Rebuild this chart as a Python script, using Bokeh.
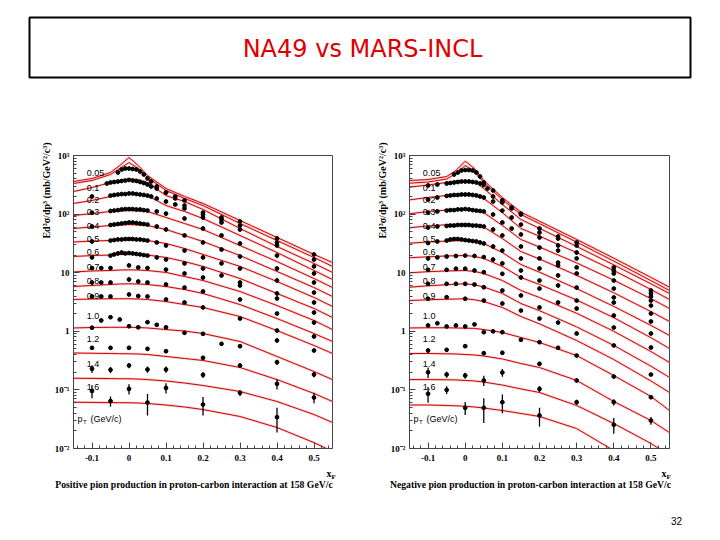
from bokeh.plotting import figure
from bokeh.layouts import column, row
from bokeh.models import (Range1d, FixedTicker, SingleIntervalTicker,
                          CustomJSTickFormatter, Label, Title)
from bokeh.core.properties import value
from bokeh.embed import file_html
from bokeh.resources import INLINE

# ---------------------------------------------------------------- data
pt_labels = ["0.05", "0.1", "0.2", "0.3", "0.4", "0.5", "0.6", "0.7",
             "0.8", "0.9", "1.0", "1.2", "1.4", "1.6"]

# model curves (MARS-INCL), sampled at these x_F values
xf_grid = [-0.15, -0.1, -0.05, -0.025, 0, 0.025, 0.05, 0.1, 0.15, 0.2, 0.3, 0.4, 0.5, 0.55]

pos_fit_005a = [360, 405, 513, 675, 925, 675, 456, 274, 200, 152, 77.8, 39.9, 20.5, 14.9]
pos_fit_005b = [333, 374, 474, 600, 759, 600, 422, 253, 185, 140, 69.2, 35.4, 18.2, 12.8]
pos_fit_01 = [243, 284, 346, 374, 397, 389, 346, 207, 164, 120, 56.8, 28.0, 14.4, 10.1]
pos_fit_02 = [152, 171, 200, 212, 220, 216, 207, 140, 111, 84.1, 43.2, 22.1, 10.9, 7.66]
pos_fit_03 = [94.6, 102, 111, 113, 115, 113, 111, 87.5, 69.2, 54.6, 29.1, 15.5, 7.96, 5.58]
pos_fit_04 = [56.8, 60.3, 63.8, 65.2, 66.4, 65.2, 63.8, 54.6, 43.2, 34.0, 19.6, 10.5, 5.58, 3.93]
pos_fit_05 = [33.4, 34.7, 35.4, 36.1, 36.4, 36.1, 35.4, 31.5, 25.9, 20.5, 12.8, 7.08, 3.78, 2.65]
pos_fit_06 = [18.9, 19.6, 20.0, 20.5, 20.5, 20.5, 20.0, 18.2, 15.5, 12.8, 7.96, 4.42, 2.45, 1.72]
pos_fit_07 = [10.3, 10.7, 10.9, 11.1, 11.2, 11.1, 10.9, 10.1, 8.61, 7.36, 4.78, 2.75, 1.53, 1.07]
pos_fit_08 = [5.81, 6.05, 6.29, 6.41, 6.47, 6.41, 6.29, 5.81, 5.16, 4.42, 2.86, 1.65, 0.917, 0.670]
pos_fit_09 = [3.49, 3.56, 3.59, 3.59, 3.59, 3.56, 3.49, 3.22, 2.86, 2.55, 1.79, 1.03, 0.573, 0.418]
pos_fit_10 = [1.14, 1.16, 1.17, 1.17, 1.17, 1.16, 1.14, 1.07, 1.01, 0.917, 0.670, 0.372, 0.206, 0.150]
pos_fit_12 = [0.427, 0.422, 0.418, 0.415, 0.413, 0.410, 0.402, 0.372, 0.344, 0.318, 0.241, 0.150, 0.0869, 0.0634]
pos_fit_14 = [0.158, 0.157, 0.156, 0.155, 0.155, 0.153, 0.150, 0.142, 0.131, 0.119, 0.0940, 0.0634, 0.0380, 0.0278]
pos_fit_16 = [0.0617, 0.0612, 0.0607, 0.0605, 0.0603, 0.0597, 0.0586, 0.0552, 0.0511, 0.0462, 0.0352, 0.0228, 0.0126, 0.0089]

neg_fit_005a = [374, 389, 438, 555, 799, 600, 374, 192, 108, 75.6, 37.0, 17.7, 8.31, 5.65]
neg_fit_005b = [337, 353, 397, 493, 675, 533, 346, 177, 98.4, 68.8, 33.3, 15.8, 7.33, 4.97]
neg_fit_01 = [288, 314, 346, 367, 374, 360, 273, 146, 80.9, 57.2, 28.1, 13.6, 6.46, 4.42]
neg_fit_02 = [175, 192, 208, 216, 222, 212, 185, 106, 56.8, 42.0, 22.0, 10.9, 5.17, 3.49]
neg_fit_03 = [101, 111, 117, 121, 123, 118, 106, 63.9, 36.9, 27.4, 14.7, 7.45, 3.60, 2.45]
neg_fit_04 = [58.4, 62.7, 65.9, 67.2, 68.3, 65.7, 60.2, 38.3, 23.0, 17.1, 9.03, 4.54, 2.17, 1.47]
neg_fit_05 = [31.9, 33.4, 34.6, 35.2, 35.4, 34.1, 31.5, 22.1, 13.8, 10.2, 5.35, 2.66, 1.26, 0.848]
neg_fit_06 = [18.0, 18.7, 19.3, 19.5, 19.7, 18.9, 17.5, 12.8, 8.28, 6.31, 3.42, 1.71, 0.777, 0.509]
neg_fit_07 = [9.96, 10.4, 10.7, 10.8, 10.9, 10.5, 9.69, 7.36, 4.97, 3.77, 2.03, 1.00, 0.452, 0.293]
neg_fit_08 = [5.65, 5.98, 6.24, 6.36, 6.46, 6.22, 5.70, 4.42, 2.98, 2.25, 1.19, 0.574, 0.254, 0.163]
neg_fit_09 = [3.35, 3.45, 3.53, 3.56, 3.59, 3.45, 3.22, 2.55, 1.79, 1.34, 0.697, 0.330, 0.142, 0.0903]
neg_fit_10 = [1.14, 1.15, 1.15, 1.14, 1.13, 1.12, 1.07, 0.954, 0.784, 0.644, 0.386, 0.176, 0.0772, 0.0445]
neg_fit_12 = [0.418, 0.418, 0.413, 0.410, 0.402, 0.394, 0.379, 0.337, 0.282, 0.241, 0.145, 0.0634, 0.0300, 0.0187]
neg_fit_14 = [0.150, 0.150, 0.149, 0.148, 0.145, 0.142, 0.136, 0.121, 0.104, 0.0903, 0.0542, 0.0267, 0.0122, 0.0076]
neg_fit_16 = [0.0553, 0.0553, 0.0542, 0.0535, 0.0525, 0.0511, 0.0491, 0.0445, 0.0396, 0.0352, 0.0219, 0.00924, 0.00390, 0.00253]

# NA49 measurements: x_F positions
xf_peak = [-0.03, -0.02, -0.01, 0, 0.01, 0.02, 0.03, 0.04, 0.05, 0.06, 0.075, 0.1, 0.125, 0.15, 0.2, 0.25, 0.3, 0.4, 0.5]
xf_wide = [-0.06, -0.05, -0.04, -0.03, -0.02, -0.01, 0, 0.01, 0.02, 0.03, 0.04, 0.05, 0.06, 0.075, 0.1, 0.125, 0.15, 0.2, 0.25, 0.3, 0.4, 0.5]
xf_wide2 = [-0.1, -0.05, -0.04, -0.03, -0.02, -0.01, 0, 0.01, 0.02, 0.03, 0.04, 0.05, 0.06, 0.075, 0.1, 0.125, 0.15, 0.2, 0.25, 0.3, 0.4, 0.5]
xf_dense = [-0.1, -0.05, -0.04, -0.03, -0.02, -0.01, 0, 0.01, 0.02, 0.03, 0.04, 0.05, 0.075, 0.1, 0.15, 0.2, 0.25, 0.3, 0.4, 0.5]
xf_sparse = [-0.1, -0.075, -0.05, 0, 0.025, 0.05, 0.1, 0.15, 0.2, 0.3, 0.4, 0.5]
xf_mid = [-0.1, -0.075, -0.05, -0.025, 0, 0.025, 0.05, 0.075, 0.1, 0.15, 0.2, 0.25, 0.3, 0.4, 0.5]
xf_high = [-0.1, -0.05, 0, 0.05, 0.1, 0.2, 0.3, 0.4, 0.5]
xf_high16 = [-0.1, -0.05, 0, 0.05, 0.1, 0.2, 0.4]

neg_xf_full = [-0.1, -0.075, -0.05, -0.04, -0.03, -0.02, -0.01, 0, 0.01, 0.02, 0.03, 0.04, 0.05, 0.075, 0.1, 0.125, 0.15, 0.2, 0.25, 0.3, 0.4, 0.5]
neg_xf_full2 = [-0.1, -0.075, -0.05, -0.04, -0.03, -0.02, -0.01, 0, 0.01, 0.02, 0.03, 0.04, 0.05, 0.075, 0.1, 0.15, 0.2, 0.25, 0.3, 0.4, 0.5]
neg_xf_mid7 = [-0.1, -0.05, -0.025, 0, 0.025, 0.05, 0.1, 0.15, 0.2, 0.25, 0.3, 0.4, 0.5]
neg_xf_09 = [-0.1, -0.05, 0, 0.05, 0.1, 0.15, 0.2, 0.25, 0.3, 0.4, 0.5]
neg_xf_14 = [-0.1, -0.05, 0, 0.05, 0.1, 0.2, 0.3, 0.4]
neg_xf_16 = [-0.1, -0.05, 0, 0.05, 0.1, 0.2]

# positive pions, E d3sigma/dp3
pos_y_005 = [513, 577, 600, 600, 588, 577, 533, 474, 405, 360, 296, 234, 185, 140, 106, 87.5, 74.8, 38.3, 20.5]
pos_y_01 = [333, 346, 353, 360, 367, 374, 382, 374, 367, 353, 339, 320, 296, 273, 234, 200, 171, 98.4, 80.9, 63.9, 32.8, 16.8]
pos_y_02 = [200, 207, 212, 216, 220, 220, 225, 225, 220, 216, 212, 207, 200, 185, 164, 146, 125, 87.5, 71.9, 54.6, 29.1, 12.8]
pos_y_03 = [106, 113, 115, 117, 120, 122, 122, 122, 120, 120, 117, 115, 111, 102, 84.1, 56.8, 43.2, 31.5, 19.6, 9.69]
pos_y_04 = [61.4, 65.1, 66.4, 67.8, 69.1, 70.5, 71.9, 71.9, 70.5, 69.1, 67.8, 66.4, 61.4, 54.6, 43.2, 32.8, 24.9, 18.9, 11.8, 6.80]
pos_y_05 = [34.1, 35.4, 36.1, 36.9, 36.9, 37.6, 37.6, 37.6, 36.9, 36.9, 36.1, 35.4, 32.8, 29.1, 23.9, 18.2, 14.4, 11.8, 7.36, 4.59]
pos_y_06 = [18.2, 19.6, 20.5, 21.3, 22.1, 21.3, 21.7, 21.3, 20.9, 20.5, 20.0, 19.6, 18.2, 16.8, 14.4, 11.8, 8.96, 6.80, 4.42, 3.10]
pos_y_07 = [12.0, 12.0, 12.0, 13.3, 12.3, 12.0, 11.3, 9.69, 8.28, 6.05, 3.63, 2.09]
pos_y_08 = [6.80, 6.80, 6.80, 7.66, 7.08, 6.80, 6.29, 5.58, 4.78, 3.49, 2.01, 1.41]
pos_y_09 = [3.93, 3.93, 3.93, 4.25, 4.00, 3.93, 3.49, 3.10, 2.55, 1.65, 1.03, 0.815]
pos_y_10 = [1.15, 1.53, 1.74, 1.59, 1.22, 1.17, 1.43, 1.29, 1.17, 0.943, 0.906, 0.612, 0.557, 0.697, 0.470]
pos_y_12 = [0.523, 0.523, 0.523, 0.503, 0.458, 0.353, 0.261, 0.297, 0.183]
pos_y_14 = [0.229, 0.220, 0.261, 0.223, 0.223, 0.181, 0.0892, 0.127, 0.0742]
pos_y_16 = [0.0958, 0.0646, 0.104, 0.0609, 0.108, 0.0563, 0.0342]
pos_e_12 = [0.06, 0.05, 0.05, 0.06, 0.06, 0.06, 0.08, 0.1, 0.1]
pos_e_14 = [0.15, 0.12, 0.1, 0.12, 0.12, 0.12, 0.12, 0.2, 0.2]
pos_e_16 = [0.25, 0.2, 0.2, 0.4, 0.2, 0.35, 0.45]

# negative pions
neg_y_005 = [474, 513, 555, 565, 565, 555, 513, 438, 346, 273, 200, 171, 130, 102, 56.8, 41.5, 32.8, 12.3, 4.97]
neg_y_01 = [308, 320, 333, 339, 346, 353, 360, 360, 360, 353, 346, 333, 314, 253, 158, 125, 98.4, 48.5, 38.3, 29.1, 10.9, 4.42]
neg_y_02 = [177, 192, 204, 208, 212, 212, 216, 216, 216, 212, 208, 200, 192, 164, 115, 87.5, 66.4, 39.9, 29.1, 22.1, 9.69, 3.93]
neg_y_03 = [106, 111, 115, 117, 117, 120, 120, 122, 120, 117, 115, 113, 111, 98.4, 71.9, 56.8, 44.9, 26.9, 23.9, 17.5, 7.36, 3.35]
neg_y_04 = [59.0, 61.4, 62.7, 63.8, 63.8, 65.1, 65.1, 65.1, 65.1, 63.8, 63.8, 62.7, 61.4, 54.6, 43.2, 28.0, 17.5, 14.9, 12.3, 5.37, 2.75]
neg_y_05 = [32.1, 34.1, 35.4, 36.9, 37.6, 37.6, 36.9, 36.1, 35.4, 34.7, 34.1, 32.8, 31.5, 28.0, 23.9, 17.5, 11.8, 13.3, 9.69, 3.78, 2.01]
neg_y_06 = [17.5, 18.2, 18.9, 19.3, 19.6, 19.3, 18.5, 16.8, 14.4, 10.9, 7.36, 8.96, 5.58, 3.10, 1.47]
neg_y_07 = [11.2, 11.2, 11.7, 11.7, 10.9, 10.2, 9.58, 8.28, 5.37, 6.05, 3.35, 1.86, 0.917]
neg_y_08 = [6.47, 6.47, 6.47, 6.47, 6.29, 5.65, 4.97, 4.08, 2.55, 3.10, 2.45, 1.16, 0.529]
neg_y_09 = [3.59, 3.82, 3.59, 3.35, 2.98, 2.26, 1.65, 1.41, 0.917, 0.573, 0.183]
neg_y_10 = [1.26, 1.37, 1.21, 1.26, 1.21, 1.31, 0.965, 1.00, 0.965, 0.716, 0.652, 0.523, 0.386, 0.169, 0.0750]
neg_y_12 = [0.470, 0.483, 0.557, 0.423, 0.430, 0.279, 0.145, 0.0617, 0.0300]
neg_y_14 = [0.200, 0.183, 0.176, 0.145, 0.198, 0.104, 0.0617, 0.0254]
neg_y_16 = [0.0858, 0.100, 0.0495, 0.0495, 0.0617, 0.0366]
neg_e_12 = [0.08, 0.07, 0.06, 0.08, 0.08, 0.08, 0.08, 0.12, 0.15]
neg_e_14 = [0.2, 0.12, 0.12, 0.2, 0.15, 0.12, 0.1, 0.3]
neg_e_16 = [0.3, 0.15, 0.25, 0.45, 0.35, 0.35]

# ---------------------------------------------------------------- layout constants
label_x_pos = -0.114
label_y_pos = [493, 274, 171, 108, 63.8, 37.8, 23.0, 12.4, 7.08, 4.08, 1.86, 0.745, 0.279, 0.111]

pos_fits = [pos_fit_005a, pos_fit_005b, pos_fit_01, pos_fit_02, pos_fit_03, pos_fit_04,
            pos_fit_05, pos_fit_06, pos_fit_07, pos_fit_08, pos_fit_09, pos_fit_10,
            pos_fit_12, pos_fit_14, pos_fit_16]
neg_fits = [neg_fit_005a, neg_fit_005b, neg_fit_01, neg_fit_02, neg_fit_03, neg_fit_04,
            neg_fit_05, neg_fit_06, neg_fit_07, neg_fit_08, neg_fit_09, neg_fit_10,
            neg_fit_12, neg_fit_14, neg_fit_16]

pos_sets = [(xf_peak, pos_y_005, None), (xf_wide, pos_y_01, None), (xf_wide2, pos_y_02, None),
            (xf_dense, pos_y_03, None), (xf_dense, pos_y_04, None), (xf_dense, pos_y_05, None),
            (xf_dense, pos_y_06, None), (xf_sparse, pos_y_07, None), (xf_sparse, pos_y_08, None),
            (xf_sparse, pos_y_09, None), (xf_mid, pos_y_10, None), (xf_high, pos_y_12, pos_e_12),
            (xf_high, pos_y_14, pos_e_14), (xf_high16, pos_y_16, pos_e_16)]
neg_sets = [(xf_peak, neg_y_005, None), (neg_xf_full, neg_y_01, None), (neg_xf_full, neg_y_02, None),
            (neg_xf_full, neg_y_03, None), (neg_xf_full2, neg_y_04, None), (neg_xf_full2, neg_y_05, None),
            (xf_mid, neg_y_06, None), (neg_xf_mid7, neg_y_07, None), (neg_xf_mid7, neg_y_08, None),
            (neg_xf_09, neg_y_09, None), (xf_mid, neg_y_10, None), (xf_high, neg_y_12, neg_e_12),
            (neg_xf_14, neg_y_14, neg_e_14), (neg_xf_16, neg_y_16, neg_e_16)]

FRAME = "#444444"
FIT_RED = "#d00000"
SERIF = "Liberation Serif"
SANS = "Liberation Sans"
Y_TITLE = "Ed\u00b3\u03c3/dp\u00b3 (mb/GeV\u00b2/c\u00b3)"
PANEL_H = 340

y_fmt_code = """
const e = Math.round(Math.log10(tick));
if (e === 0) { return "1"; }
if (e === 1) { return "10"; }
const sup = {"-2": "\u207b\u00b2", "-1": "\u207b\u00b9", "2": "\u00b2", "3": "\u00b3"};
return "10" + sup[String(e)];
"""
x_fmt_code = """
const v = Math.round(tick * 10) / 10;
if (v === 0) { return "0"; }
return v.toFixed(1);
"""


def blank(width, height, xr, yr):
    f = figure(width=width, height=height, x_range=Range1d(*xr), y_range=Range1d(*yr),
               output_backend="svg", toolbar_location=None, min_border=0,
               x_axis_type=None, y_axis_type=None)
    f.outline_line_color = None
    f.background_fill_color = "white"
    f.border_fill_color = "white"
    return f


def add_label(p, x, y, text, size="9px", xo=0, yo=0):
    p.add_layout(Label(x=x, y=y, text=text, text_font=SANS, text_font_size=size,
                       text_align="left", text_baseline="middle",
                       x_offset=xo, y_offset=yo, text_color="black"))


def make_panel(fits, sets, width, mb_left, mb_right):
    p = figure(width=width, height=PANEL_H, x_range=Range1d(-0.15, 0.55),
               y_range=Range1d(0.01, 1000), y_axis_type="log",
               output_backend="svg", toolbar_location=None,
               min_border_left=mb_left, min_border_right=mb_right,
               min_border_top=27, min_border_bottom=20)
    p.grid.visible = False
    p.outline_line_color = FRAME
    p.outline_line_width = 1
    p.background_fill_color = "white"
    p.border_fill_color = "white"

    yax = p.yaxis[0]
    yax.ticker = FixedTicker(ticks=[0.01, 0.1, 1, 10, 100, 1000],
                             minor_ticks=[m * 10.0 ** e for e in range(-2, 3) for m in range(2, 10)])
    yax.formatter = CustomJSTickFormatter(code=y_fmt_code)
    xax = p.xaxis[0]
    xax.ticker = SingleIntervalTicker(interval=0.1, num_minor_ticks=5)
    xax.formatter = CustomJSTickFormatter(code=x_fmt_code)
    for ax in (xax, yax):
        ax.axis_line_color = FRAME
        ax.major_tick_line_color = FRAME
        ax.minor_tick_line_color = FRAME
        ax.major_tick_in = 6
        ax.major_tick_out = 0
        ax.minor_tick_in = 3
        ax.minor_tick_out = 0
        ax.major_label_text_font = SERIF
        ax.major_label_text_font_style = "bold"
        ax.major_label_text_font_size = "9px"
        ax.major_label_text_color = "black"
    yax.major_label_standoff = 4
    xax.major_label_standoff = 6

    # y-axis title, towards the top end of the axis
    p.add_layout(Title(text=Y_TITLE, align="right", offset=-13, standoff=0,
                       text_font=SERIF, text_font_style="bold", text_font_size="10px",
                       text_color="black"), "left")

    # model curves: soft halo then the line itself
    for vals in fits:
        p.line(xf_grid, vals, line_color="#f6b4b4", line_width=2.6, line_alpha=0.6)
    for vals in fits:
        p.line(xf_grid, vals, line_color=FIT_RED, line_width=1.0)

    # measurements
    for xs, ys, errs in sets:
        if errs is not None:
            lo = [v * (1 - e) for v, e in zip(ys, errs)]
            hi = [v * (1 + e) for v, e in zip(ys, errs)]
            p.segment(x0=xs, y0=lo, x1=xs, y1=hi, line_color="black", line_width=1.3)
        p.scatter(xs, ys, marker="circle", size=3.8, fill_color="black", line_color="black")

    # p_T labels
    for txt, ly in zip(pt_labels, label_y_pos):
        add_label(p, label_x_pos, ly, txt)
    add_label(p, -0.139, 0.0321, "p")
    add_label(p, -0.139, 0.0321, "T", size="6px", xo=5.5, yo=-3)
    add_label(p, -0.139, 0.0321, "(GeV/c)", xo=13)
    return p


def make_top():
    t = blank(720, 128, (0, 720), (128, 0))
    t.quad(left=[29], right=[690], top=[17], bottom=[77], fill_color=None,
           line_color="black", line_width=2)
    t.text(x=[362], y=[48], text=["NA49 vs MARS-INCL"], text_font=value("DejaVu Sans"),
           text_font_size=value("24px"), text_color="#dd0000", text_align="center",
           text_baseline="middle")
    return t


def make_bottom():
    b = blank(720, 72, (0, 720), (72, 0))
    serif = value(SERIF)
    # x_F axis titles
    b.text(x=[326, 661], y=[5, 5], text=["x", "x"], text_font=serif, text_font_style="bold",
           text_font_size=value("10px"), text_align="left", text_baseline="middle")
    b.text(x=[331, 666], y=[8, 8], text=["F", "F"], text_font=serif, text_font_style="bold",
           text_font_size=value("7px"), text_align="left", text_baseline="middle")
    # captions
    b.text(x=[193.5, 530], y=[15.5, 15.5],
           text=["Positive pion production in proton-carbon interaction at 158 GeV/c",
                 "Negative pion production in proton-carbon interaction at 158 GeV/c"],
           text_font=serif, text_font_style="bold", text_font_size=value("9.7px"),
           text_align="center", text_baseline="middle")
    # slide number
    b.text(x=[676], y=[52], text=["32"], text_font=value(SANS),
           text_font_size=value("10px"), text_align="center", text_baseline="middle")
    return b


top = make_top()
left = make_panel(pos_fits, pos_sets, 370, 73, 38)
right = make_panel(neg_fits, neg_sets, 350, 39, 51)
bottom = make_bottom()

page = column(top, row(left, right, spacing=0), bottom, spacing=0)
open("out.html", "w").write(file_html(page, INLINE))
